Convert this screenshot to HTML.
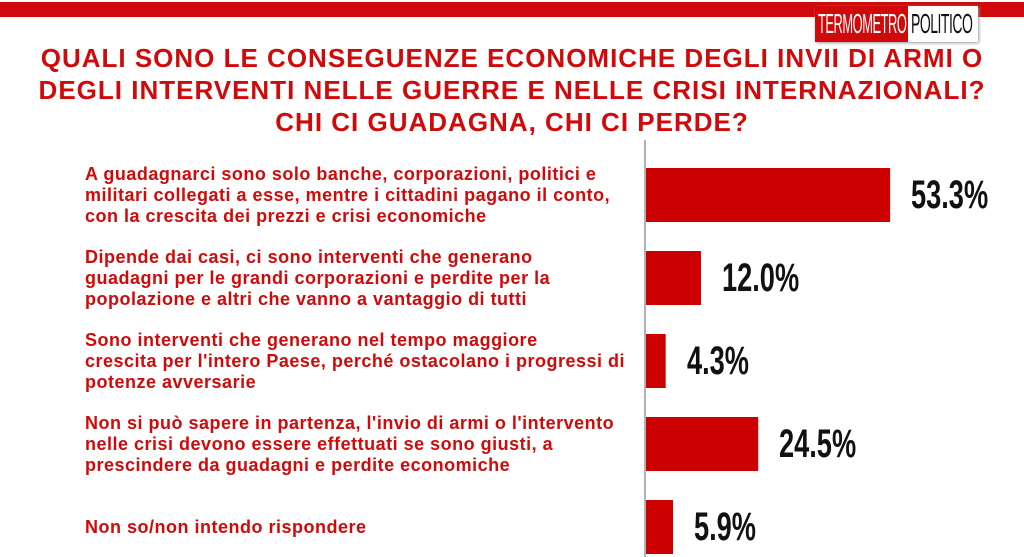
<!DOCTYPE html>
<html><head><meta charset="utf-8"><style>
body{margin:0;width:1024px;height:557px;overflow:hidden;background:#fff;font-family:"Liberation Sans",sans-serif;position:relative}
.band{position:absolute;left:0;top:2px;width:1024px;height:15px;background:#d00a0a}
.logo{position:absolute;left:815px;top:6px;height:36px;width:163px;box-shadow:1px 1px 3px #999;background:#fff;overflow:hidden}
.logo .a{position:absolute;left:0;top:0;width:93px;height:36px;background:#d00a0a}
.logo span{position:absolute;top:0;white-space:nowrap;font-size:28px;line-height:36px;transform-origin:left center;letter-spacing:-1px}
.title{position:absolute;left:0;width:1024px;top:42px;text-align:center;color:#d00a0a;font-weight:bold;font-size:26px;letter-spacing:1px;line-height:32px;white-space:nowrap}
.lab{position:absolute;left:85px;color:#d00a0a;font-weight:bold;font-size:18px;letter-spacing:0.5px;line-height:21px;width:560px;white-space:nowrap}
.val{position:absolute;font-weight:bold;font-size:40px;color:#111;transform:scaleX(0.68);transform-origin:left center;line-height:44px;white-space:nowrap}
</style></head><body>
<div class="band"></div>
<div class="logo"><div class="a"></div><span style="left:3px;color:#fff;transform:scaleX(0.46)">TERMOMETRO</span><span style="left:96px;color:#111;transform:scaleX(0.5)">POLITICO</span></div>
<div class="title">QUALI SONO LE CONSEGUENZE ECONOMICHE DEGLI INVII DI ARMI O<br>DEGLI INTERVENTI NELLE GUERRE E NELLE CRISI INTERNAZIONALI?<br>CHI CI GUADAGNA, CHI CI PERDE?</div>
<svg id="svg" width="1024" height="557" style="position:absolute;left:0;top:0"></svg>
<script>
const categories=["A guadagnarci sono solo banche, corporazioni, politici e<br>militari collegati a esse, mentre i cittadini pagano il conto,<br>con la crescita dei prezzi e crisi economiche",
"Dipende dai casi, ci sono interventi che generano<br>guadagni per le grandi corporazioni e perdite per la<br>popolazione e altri che vanno a vantaggio di tutti",
"Sono interventi che generano nel tempo maggiore<br>crescita per l'intero Paese, perché ostacolano i progressi di<br>potenze avversarie",
"Non si può sapere in partenza, l'invio di armi o l'intervento<br>nelle crisi devono essere effettuati se sono giusti, a<br>prescindere da guadagni e perdite economiche",
"Non so/non intendo rispondere"];
const values=[53.3,12.0,4.3,24.5,5.9];
const valueLabels=["53.3%","12.0%","4.3%","24.5%","5.9%"];
const x0=645, pxPer=4.58, yTop=168, step=83, bh=54;
const xs=v=>v*pxPer;
const ys=i=>yTop+i*step;
const svg=document.getElementById('svg');
const ns="http://www.w3.org/2000/svg";
const ax=document.createElementNS(ns,'line');
ax.setAttribute('x1',x0);ax.setAttribute('x2',x0);ax.setAttribute('y1',140);ax.setAttribute('y2',557);
ax.setAttribute('stroke','#999');ax.setAttribute('stroke-width','1.5');


svg.appendChild(ax);
values.forEach((v,i)=>{
 const r=document.createElementNS(ns,'rect');
 r.setAttribute('x',x0+1);r.setAttribute('y',ys(i));r.setAttribute('width',xs(v));r.setAttribute('height',bh);r.setAttribute('fill','#cc0000');
 
 
 svg.appendChild(r);
 const t=document.createElement('div');t.className='val';t.innerHTML=valueLabels[i];
 t.style.left=(x0+xs(v)+22)+'px';t.style.top=(ys(i)+bh/2-22)+'px';
 
 
 document.body.appendChild(t);
 const l=document.createElement('div');l.className='lab';l.innerHTML=categories[i];
 const n=categories[i].split('<br>').length;
 l.style.top=(ys(i)+bh/2-n*21/2)+'px';
 
 
 document.body.appendChild(l);
});
</script>
</body></html>
